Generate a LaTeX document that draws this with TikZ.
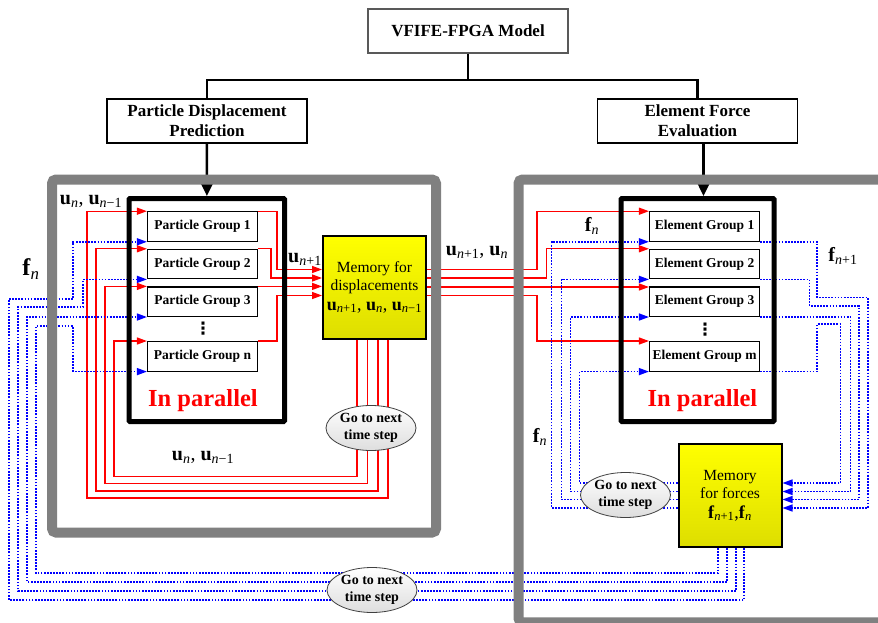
\documentclass[tikz,border=0pt]{standalone}
\usepackage{fontspec}
\setmainfont{Liberation Serif}
\newfontfamily\dotsfont{DejaVu Sans}
\usetikzlibrary{arrows.meta, positioning, shapes.geometric, calc}

\newcommand{\sv}[2]{\textbf{#1}\textsubscript{\normalfont #2}}

\begin{document}
\begin{tikzpicture}[
  x=1pt, y=-1pt,
  >={Triangle[length=10pt, width=7pt]},
  title/.style={draw, line width=1.6pt, fill=white, align=center,
                minimum width=200pt, minimum height=44pt, inner sep=2pt,
                font=\fontsize{17}{20}\selectfont\bfseries},
  group/.style={draw, line width=1.1pt, fill=white, minimum width=110pt,
                minimum height=29.5pt, inner sep=1pt,
                font=\fontsize{13.5}{15}\selectfont\bfseries},
  block/.style={draw, line width=5pt, rounded corners=1pt, inner sep=0pt},
  frame/.style={draw=gray, line width=10pt, rounded corners=4pt},
  mem/.style={draw, line width=2pt, top color=yellow, bottom color=yellow!87!black,
              minimum width=103pt, minimum height=103pt, inner sep=1pt, align=center,
              font=\fontsize{15.5}{18.5}\selectfont},
  nextstep/.style={ellipse, draw=black!75, line width=0.8pt, top color=white,
                   bottom color=black!13, minimum width=90pt, minimum height=45pt,
                   inner sep=0pt, align=center, font=\fontsize{14}{16.5}\selectfont\bfseries},
  disp/.style={draw=red, line width=1.3pt, ->},
  force/.style={draw=blue, line width=1.4pt, dash pattern=on 1.7pt off 1.4pt, ->},
  tree/.style={line width=2.5pt},
  par/.style={text=red, font=\fontsize{24.5}{28}\selectfont\bfseries},
  lbl/.style={font=\fontsize{20}{22}\selectfont, inner sep=0pt},
  vdot/.style={font=\dotsfont\fontsize{17}{17}\selectfont\bfseries, inner sep=0pt},
]
\useasboundingbox (0,0) rectangle (878,623);
\clip (0,0) rectangle (878,623);

% top of the tree
\node[title, draw=black!65] (model) at (468,31) {VFIFE-FPGA Model};
\node[title] (pdp) at (207,121) {Particle Displacement\\Prediction};
\node[title] (efe) at (697.5,121) {Element Force\\Evaluation};
\coordinate (split) at (468,80);
\draw[tree] (model) -- (split);
\draw[tree] (split) -| (pdp);
\draw[tree] (split) -| (efe);

\node[group] (pg1) at (202.5,226.5) {Particle Group 1};
\node[group, below=7pt of pg1] (pg2) {Particle Group 2};
\node[group, below=7pt of pg2] (pg3) {Particle Group 3};
\node[group, below=24pt of pg3] (pgn) {Particle Group n};

\node[group] (eg1) at (704.5,226.5) {Element Group 1};
\node[group, below=7pt of eg1] (eg2) {Element Group 2};
\node[group, below=7pt of eg2] (eg3) {Element Group 3};
\node[group, below=24pt of eg3] (egm) {Element Group m};

% memories
\node[mem] (memd) at (374.5,287) {Memory for\\displacements\\[1pt]
  {\fontsize{18}{20}\selectfont\sv{u}{\textit{n}+1}, \sv{u}{\textit{n}}, \sv{u}{\textit{n}−1}}};
\node[mem] (memf) at (730,495.5) {Memory\\for forces\\[1pt]
  {\fontsize{18}{20}\selectfont\sv{f}{\textit{n}+1},\sv{f}{\textit{n}}}};

% displacements into memory
\draw[disp] (pg1.north east) -- ++(19,0) |- ($(memd.west)+(0,-17.5)$);
\draw[disp] (pg2.north east) -- ++(13,0) |- ($(memd.west)+(0,-9)$);
\draw[disp] (pg3.north east) -- (pg3.north east -| memd.west);
\draw[disp] (pgn.north east) -- ++(19,0) |- ($(memd.west)+(0,8.5)$);
% displacements back to the groups
\draw[disp] ($(memd.south)+(-17.5,0)$) |- (114,476.5) |- (pgn.north west);
\draw[disp] ($(memd.south)+(-7,0)$) |- (105,483.5) |- (pg3.north west);
\draw[disp] ($(memd.south)+(3.5,0)$) |- (96,491) |- (pg2.north west);
\draw[disp] ($(memd.south)+(13.5,0)$) |- (87,498) |- (pg1.north west);
% displacements to the elements
\draw[disp] ($(memd.east)+(0,-17.5)$) -- ++(110,0) |- (eg1.north west);
\draw[disp] ($(memd.east)+(0,-9)$) -- ++(119.5,0) |- (eg2.north west);
\draw[disp] (memd.east) -- (memd.east -| eg3.north west);
\draw[disp] ($(memd.east)+(0,8.5)$) -- ++(110,0) |- (egm.north west);
% forces to the particles
\draw[force] ($(memf.south)+(-12,0)$) |- (36,573) |- (73,326) |- (pgn.south west);
\draw[force] ($(memf.south)+(-3,0)$) |- (27,582) |- (pg3.south west);
\draw[force] ($(memf.south)+(6,0)$) |- (18,591) |- (83,307) |- (pg2.south west);
\draw[force] ($(memf.south)+(14,0)$) |- (9,600) |- (73,299) |- (pg1.south west);
% forces back to the elements
\draw[force] ($(memf.west)+(0,-12.5)$) -- ++(-98,0) |- (egm.south west);
\draw[force] ($(memf.west)+(0,-4)$) -- ++(-107,0) |- (eg3.south west);
\draw[force] ($(memf.west)+(0,4)$) -- ++(-116,0) |- (eg2.south west);
\draw[force] ($(memf.west)+(0,12.5)$) -- ++(-126,0) |- (eg1.south west);
% new forces into memory
\draw[force] (eg1.south east) -- ++(57,0) |- (868,297.5) |- ($(memf.east)+(0,12.5)$);
\draw[force] (eg2.south east) -- ++(49.5,0) |- (859,306) |- ($(memf.east)+(0,4)$);
\draw[force] (eg3.south east) -- ++(90.5,0) |- ($(memf.east)+(0,-4)$);
\draw[force] (egm.south east) -- ++(57,0) |- (840.5,324) |- ($(memf.east)+(0,-12.5)$);

% parallel blocks
\node[block, minimum width=155.5pt, minimum height=223pt] (pblock) at (206.75,310) {};
\node[block, minimum width=153pt, minimum height=223pt] (eblock) at (697.5,310) {};
\draw[tree, -{Triangle[length=13pt, width=12pt]}] (pdp) -- (pblock);
\draw[tree, -{Triangle[length=13pt, width=12pt]}] ([xshift=6pt]efe.south) -- ([xshift=6pt]eblock.north);

\node[vdot] (pdots) at (203,329) {⋮};
\node[vdot] (edots) at (705,330) {⋮};
\node[par] (ppar) at (203,401) {In parallel};
\node[par] (epar) at (702.5,401) {In parallel};

\node[nextstep] (nsd) at (371,428) {Go to next\\time step};
\node[nextstep] (nsf) at (625.5,495) {Go to next\\time step};
\node[nextstep] (nsb) at (372,590) {Go to next\\time step};

% labels
\node[lbl] (l1) at (91,201) {\sv{u}{\textit{n}}, \sv{u}{\textit{n}−1}};
\node[lbl, font=\fontsize{24}{26}\selectfont] (l2) at (31,269) {\sv{f}{\textit{n}}};
\node[lbl] (l3) at (305,259) {\sv{u}{\textit{n}+1}};
\node[lbl] (l4) at (477,252) {\sv{u}{\textit{n}+1}, \sv{u}{\textit{n}}};
\node[lbl] (l5) at (203,457) {\sv{u}{\textit{n}}, \sv{u}{\textit{n}−1}};
\node[lbl] (l6) at (592,226) {\sv{f}{\textit{n}}};
\node[lbl] (l7) at (843,256) {\sv{f}{\textit{n}+1}};
\node[lbl] (l8) at (540,437) {\sv{f}{\textit{n}}};

% panels
\draw[frame] (52,179.5) rectangle (436,532.5);
\draw[frame] (518.5,179.5) rectangle (895,622.3);
\end{tikzpicture}
\end{document}
